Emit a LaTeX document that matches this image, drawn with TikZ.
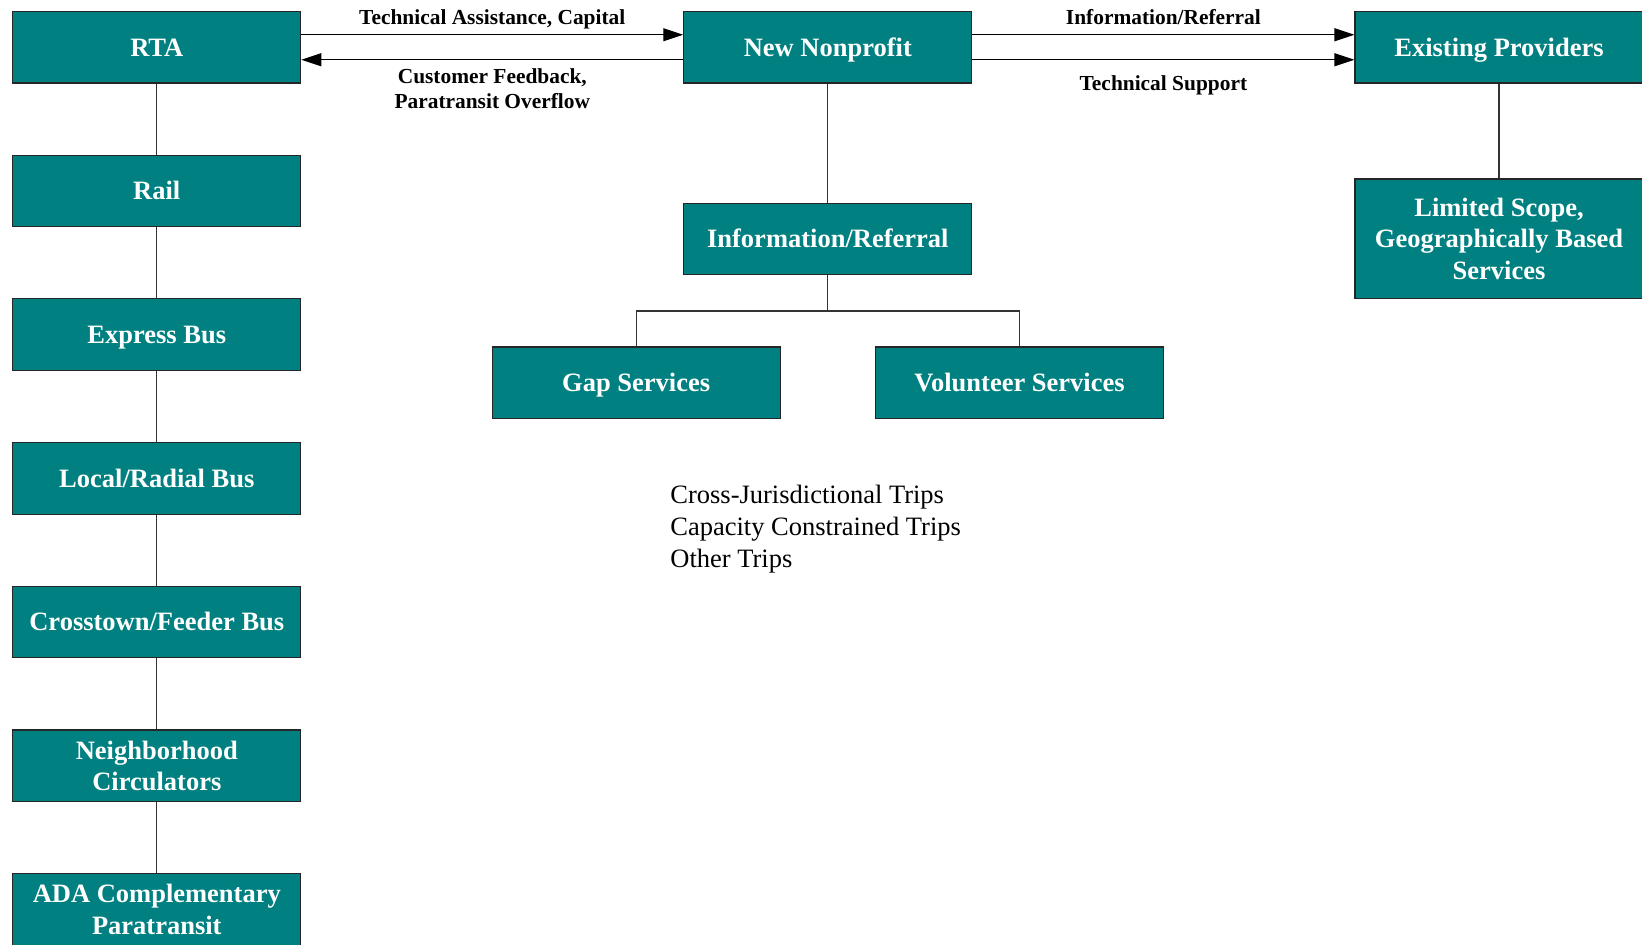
\documentclass[tikz,border=0pt]{standalone}
\usepackage{fontspec}
\setmainfont{Liberation Serif}
\usetikzlibrary{arrows.meta}
\definecolor{boxteal}{HTML}{008080}
\begin{document}
\begin{tikzpicture}[x=1pt,y=-1pt,
  unit/.style={draw=black!85, line width=1.1pt, fill=boxteal, text=white,
    minimum width=288pt, minimum height=71.5pt, inner sep=0pt, align=center,
    font=\bfseries\fontsize{26.5}{31.5}\selectfont},
  oneline/.style={text height=17.5pt, text depth=0pt},
  link/.style={draw=black!80, line width=1.2pt},
  flow/.style={draw=black, line width=1.1pt, -{Triangle[length=20pt,width=13pt]}},
  flowlabel/.style={font=\bfseries\fontsize{21.4}{25}\selectfont, align=center, inner sep=0pt}]
\useasboundingbox (0,0) rectangle (1642,945);
\clip (0,0) rectangle (1642,945);

% service hierarchy under the RTA
\node[unit, oneline] (rta)   at (156.8,47.25)  {RTA};
\node[unit, oneline] (rail)  at (156.8,190.95) {Rail};
\node[unit, oneline] (expr)  at (156.8,334.65) {Express Bus};
\node[unit, oneline] (local) at (156.8,478.35) {Local/Radial Bus};
\node[unit, oneline] (cross) at (156.8,622.05) {Crosstown/Feeder Bus};
\node[unit] (neigh) at (156.8,765.75) {Neighborhood\\Circulators};
\node[unit] (ada)   at (156.8,909.45) {ADA Complementary\\Paratransit};

% nonprofit and its services
\node[unit, oneline] (nn)  at (827.8,47.25)  {New Nonprofit};
\node[unit, oneline] (ir)  at (827.8,238.8)  {Information/Referral};
\node[unit, oneline] (gap) at (636.2,382.75) {Gap Services};
\node[unit, oneline] (vol) at (1019.5,382.75) {Volunteer Services};

% existing providers
\node[unit, oneline] (ep) at (1499,47.25) {Existing Providers};
\node[unit, minimum height=119.5pt] (ls) at (1499,238.75) {Limited Scope,\\Geographically Based\\Services};

% trip types served
\node[anchor=base west, align=left, inner sep=0pt,
      font=\fontsize{26.5}{32}\selectfont] (trips) at (670.2,567)
  {Cross-Jurisdictional Trips\\Capacity Constrained Trips\\Other Trips};

% vertical links
\draw[link] (rta) -- (rail);
\draw[link] (rail) -- (expr);
\draw[link] (expr) -- (local);
\draw[link] (local) -- (cross);
\draw[link] (cross) -- (neigh);
\draw[link] (neigh) -- (ada);
\draw[link] (nn) -- (ir);
\draw[link] (ep) -- (ls);
\coordinate (split) at (827.8,311);
\draw[link] (ir.south) -- (split);
\draw[link] (gap.north) |- (split) -| (vol.north);

% flows between organisations
\draw[flow] ([yshift=12.5pt]rta.east) --
  node[flowlabel, yshift=15.7pt] {Technical Assistance, Capital}
  ([yshift=12.5pt]nn.west);
\draw[flow] ([yshift=-12.5pt]nn.west) --
  node[flowlabel, yshift=-29.3pt] {Customer Feedback,\\Paratransit Overflow}
  ([yshift=-12.5pt]rta.east);
\draw[flow] ([yshift=12.5pt]nn.east) --
  node[flowlabel, yshift=17.8pt] {Information/Referral}
  ([yshift=12.5pt]ep.west);
\draw[flow] ([yshift=-12.5pt]nn.east) --
  node[flowlabel, yshift=-26.1pt] {Technical Support}
  ([yshift=-12.5pt]ep.west);
\end{tikzpicture}
\end{document}
